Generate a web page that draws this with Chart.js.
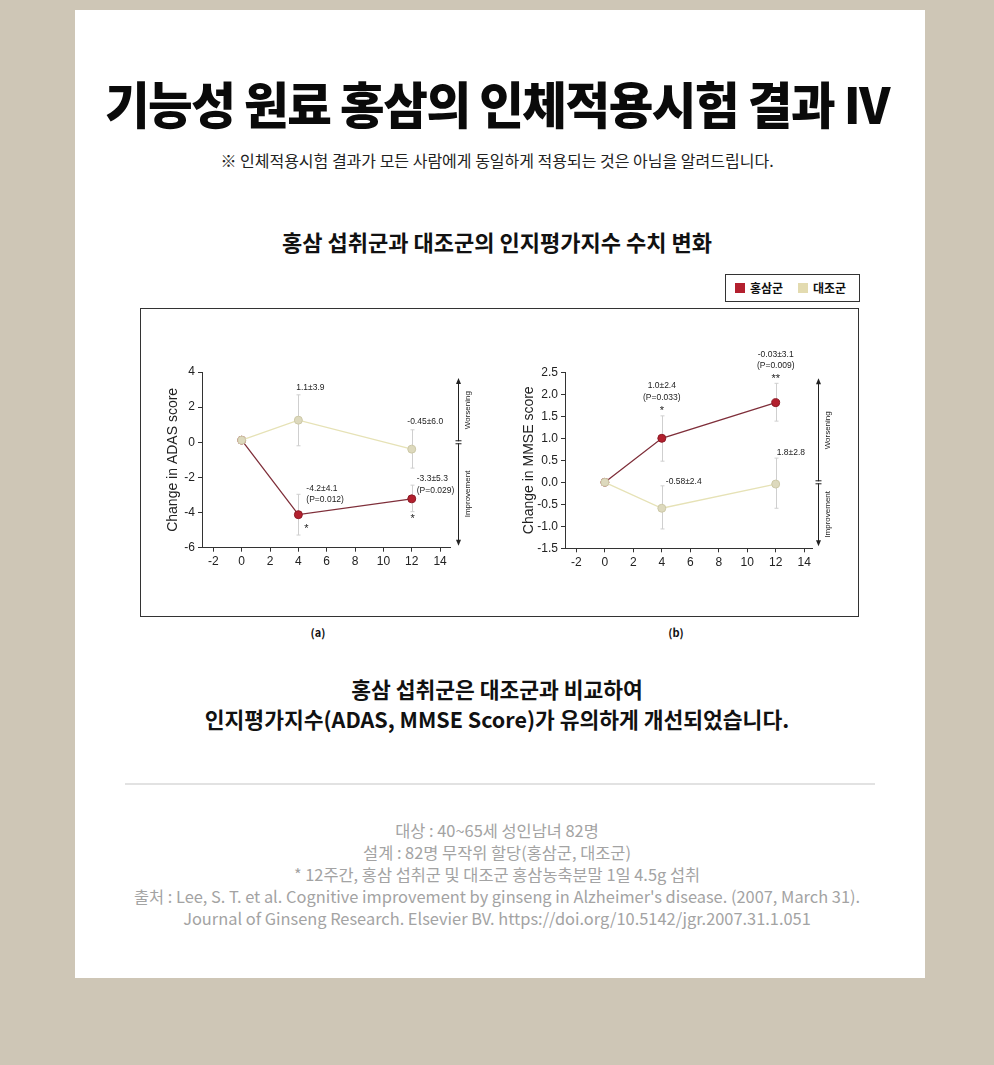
<!DOCTYPE html>
<html><head><meta charset="utf-8">
<script src="https://cdn.jsdelivr.net/npm/chart.js@4.4.0/dist/chart.umd.min.js"></script>
<style>
html,body{margin:0;padding:0;}
body{width:994px;height:1065px;background:#cec6b6;position:relative;overflow:hidden;font-family:"Noto Sans CJK KR","Noto Sans",sans-serif;color:#111;}
#card{position:absolute;left:75px;top:10px;width:850px;height:968px;background:#fff;}
.t{position:absolute;left:0;width:994px;text-align:center;white-space:nowrap;}
#title{top:72px;font-size:50px;line-height:60px;font-weight:900;letter-spacing:-1.5px;transform:scaleX(0.97);transform-origin:50% 50%;color:#0a0a0a;}
#sub{top:148px;font-size:16px;line-height:24px;color:#222;}
#heading{top:227px;font-size:22px;line-height:28px;font-weight:700;color:#111;}
#legend{position:absolute;left:725px;top:274px;width:133px;height:26px;border:1px solid #333;font-size:12px;font-weight:700;}
#legend span.sw{position:absolute;top:8px;width:10px;height:10px;}
#legend span.lb{position:absolute;top:4px;line-height:18px;}
#frame{position:absolute;left:140px;top:308px;width:717px;height:307px;border:1px solid #333;}
canvas{position:absolute;}
.cap{position:absolute;top:624px;font-size:11px;font-weight:700;line-height:16px;width:40px;text-align:center;}
#concl{top:674px;font-size:21.5px;line-height:30px;font-weight:700;color:#111;}
#divider{position:absolute;left:125px;top:783px;width:750px;height:2px;background:#e2e2e2;}
#foot{top:819px;font-size:16.4px;line-height:22px;color:#a3a3a3;}
</style></head>
<body>
<div id="card"></div>
<div class="t" id="title">기능성 원료 홍삼의 인체적용시험 결과 IV</div>
<div class="t" id="sub">※ 인체적용시험 결과가 모든 사람에게 동일하게 적용되는 것은 아님을 알려드립니다.</div>
<div class="t" id="heading">홍삼 섭취군과 대조군의 인지평가지수 수치 변화</div>
<div id="legend"></div>
<div id="frame"></div>
<canvas id="cA" width="330" height="240" style="left:150px;top:340px;"></canvas>
<canvas id="cB" width="330" height="240" style="left:510px;top:340px;"></canvas>
<div class="cap" style="left:298px;">(a)</div>
<div class="cap" style="left:656px;">(b)</div>
<div class="t" id="concl">홍삼 섭취군은 대조군과 비교하여<br>인지평가지수(ADAS, MMSE Score)가 유의하게 개선되었습니다.</div>
<div id="divider"></div>
<div class="t" id="foot">대상 : 40~65세 성인남녀 82명<br>설계 : 82명 무작위 할당(홍삼군, 대조군)<br>* 12주간, 홍삼 섭취군 및 대조군 홍삼농축분말 1일 4.5g 섭취<br>출처 : Lee, S. T. et al. Cognitive improvement by ginseng in Alzheimer's disease. (2007, March 31).<br>Journal of Ginseng Research. Elsevier BV. https://doi.org/10.5142/jgr.2007.31.1.051</div>

<script>
// ---------- DATA ----------
const WEEKS = [0, 4, 12];
const X_TICKS = [-2, 0, 2, 4, 6, 8, 10, 12, 14];
const ADAS_Y_TICKS = [-6, -4, -2, 0, 2, 4];
const MMSE_Y_TICKS = [-1.5, -1, -0.5, 0, 0.5, 1, 1.5, 2, 2.5];
const SERIES_NAMES = ['홍삼군', '대조군'];

// (a) ADAS
const ADAS_RG    = [0.12, -4.12, -3.22];
const ADAS_RG_HI = [null, -2.96, -2.44];
const ADAS_RG_LO = [null, -5.28, -3.95];
const ADAS_CT    = [0.12, 1.26, -0.39];
const ADAS_CT_HI = [null, 2.70, 0.71];
const ADAS_CT_LO = [null, -0.20, -1.47];

// (b) MMSE
const MMSE_RG    = [0, 1.0, 1.81];
const MMSE_RG_HI = [null, 1.51, 2.25];
const MMSE_RG_LO = [null, 0.48, 1.39];
const MMSE_CT    = [0, -0.59, -0.04];
const MMSE_CT_HI = [null, -0.08, 0.55];
const MMSE_CT_LO = [null, -1.06, -0.59];

// annotation texts
const ADAS_TEXT = {
  ct4: ['1.1±3.9'], ct12: ['-0.45±6.0'],
  rg4: ['-4.2±4.1', '(P=0.012)'], rg12: ['-3.3±5.3', '(P=0.029)'],
  rg4sig: '*', rg12sig: '*'
};
const MMSE_TEXT = {
  rg4: ['1.0±2.4', '(P=0.033)'], rg12: ['-0.03±3.1', '(P=0.009)'],
  rg4sig: '*', rg12sig: '**',
  ct4: ['-0.58±2.4'], ct12: ['1.8±2.8']
};
const SIDE_TEXT = ['Worsening', 'Improvement'];

// ---------- STYLE ----------
const RED = '#b3202e', RED_LINE = '#7f2f3a', RED_EDGE = '#8c1a25';
const BEIGE = '#ddd9bd', BEIGE_LINE = '#e6e2b6', BEIGE_EDGE = '#cdc9a8';
const ERR = '#cfcfcf';
const FONT = '"Liberation Sans", Arial, sans-serif';
const INK = '#222';

// legend (HTML)
(function(){
  const lg = document.getElementById('legend');
  const cols = [RED, '#e3dbb0'];
  const pos = [[9, 24], [72, 87]];
  SERIES_NAMES.forEach((n, k) => {
    const s = document.createElement('span'); s.className = 'sw';
    s.style.left = pos[k][0] + 'px'; s.style.background = cols[k]; lg.appendChild(s);
    const l = document.createElement('span'); l.className = 'lb';
    l.style.left = pos[k][1] + 'px'; l.textContent = n; lg.appendChild(l);
  });
})();

function pts(vals){ return WEEKS.map((w, i) => ({x: w, y: vals[i]})); }

const errorBars = {
  id: 'errorBars',
  beforeDatasetsDraw(chart){
    const {ctx, scales:{x, y}} = chart;
    ctx.save(); ctx.strokeStyle = ERR; ctx.lineWidth = 1;
    chart.data.datasets.forEach(ds => {
      ds.data.forEach((p, i) => {
        const hi = ds.errHi[i], lo = ds.errLo[i];
        if (hi == null) return;
        const px = Math.round(x.getPixelForValue(p.x)) + 0.5;
        const ph = y.getPixelForValue(hi), pl = y.getPixelForValue(lo);
        ctx.beginPath();
        ctx.moveTo(px, ph); ctx.lineTo(px, pl);
        ctx.moveTo(px - 2, ph); ctx.lineTo(px + 2, ph);
        ctx.moveTo(px - 2, pl); ctx.lineTo(px + 2, pl);
        ctx.stroke();
      });
    });
    ctx.restore();
  }
};

const annotations = {
  id: 'annotations',
  afterDatasetsDraw(chart, args, opts){
    const {ctx, scales:{x, y}} = chart;
    ctx.save(); ctx.fillStyle = INK; ctx.textBaseline = 'middle';
    (opts.items || []).forEach(a => {
      const ds = chart.data.datasets[a.ds];
      const p = ds.data[a.i];
      const ax = x.getPixelForValue(p.x);
      const ay = y.getPixelForValue(a.at === 'hi' ? ds.errHi[a.i] : p.y);
      ctx.textAlign = a.align || 'center';
      ctx.font = (a.size || 8.5) + 'px ' + FONT;
      a.lines.forEach((t, k) => ctx.fillText(t, ax + a.dx, ay + a.dy[k]));
    });
    ctx.restore();
  }
};

const sideArrow = {
  id: 'sideArrow',
  afterDraw(chart, args, opts){
    const {ctx, chartArea:{top, bottom, right}, scales:{y}} = chart;
    const ax = Math.round(right + opts.dx) + 0.5;
    const t = top + 6, b = bottom - 2;
    const y0 = y.getPixelForValue(0);
    ctx.save();
    ctx.strokeStyle = INK; ctx.fillStyle = INK; ctx.lineWidth = 1;
    ctx.beginPath(); ctx.moveTo(ax, t + 4); ctx.lineTo(ax, b - 4); ctx.stroke();
    ctx.beginPath(); ctx.moveTo(ax, t); ctx.lineTo(ax - 2.5, t + 6); ctx.lineTo(ax + 2.5, t + 6); ctx.closePath(); ctx.fill();
    ctx.beginPath(); ctx.moveTo(ax, b); ctx.lineTo(ax - 2.5, b - 6); ctx.lineTo(ax + 2.5, b - 6); ctx.closePath(); ctx.fill();
    ctx.fillStyle = '#fff'; ctx.fillRect(ax - 3, y0 - 1, 6, 2);
    ctx.beginPath(); ctx.moveTo(ax - 3, y0 - 1.5); ctx.lineTo(ax + 3, y0 - 1.5);
    ctx.moveTo(ax - 3, y0 + 1.5); ctx.lineTo(ax + 3, y0 + 1.5); ctx.stroke();
    ctx.fillStyle = INK; ctx.font = '8px ' + FONT; ctx.textAlign = 'center'; ctx.textBaseline = 'middle';
    const tx = ax + 9;
    [[SIDE_TEXT[0], (t + y0) / 2], [SIDE_TEXT[1], (y0 + b) / 2]].forEach(([s, cy]) => {
      ctx.save(); ctx.translate(tx, cy); ctx.rotate(-Math.PI / 2); ctx.fillText(s, 0, 0); ctx.restore();
    });
    ctx.restore();
  }
};

function makeChart(id, o){
  return new Chart(document.getElementById(id), {
    type: 'line',
    data: { datasets: [
      { label: SERIES_NAMES[1], data: pts(o.ct), errHi: o.ctHi, errLo: o.ctLo,
        borderColor: BEIGE_LINE, borderWidth: 1.3, backgroundColor: BEIGE,
        pointBackgroundColor: BEIGE, pointBorderColor: BEIGE_EDGE, pointBorderWidth: 1, pointRadius: 4 },
      { label: SERIES_NAMES[0], data: pts(o.rg), errHi: o.rgHi, errLo: o.rgLo,
        borderColor: RED_LINE, borderWidth: 1.3, backgroundColor: RED,
        pointBackgroundColor: RED, pointBorderColor: RED_EDGE, pointBorderWidth: 1, pointRadius: 4 }
    ]},
    options: {
      responsive: false, animation: false, devicePixelRatio: 1,
      layout: { padding: { top: o.padTop, right: o.padRight, left: 0, bottom: 0 } },
      plugins: { legend: { display: false }, tooltip: { enabled: false },
        annotations: { items: o.notes }, sideArrow: { dx: o.arrowDx } },
      scales: {
        x: { type: 'linear', min: o.xMin, max: o.xMax,
          afterBuildTicks: s => { s.ticks = X_TICKS.map(v => ({value: v})); },
          afterFit: s => { s.height = o.xH; },
          ticks: { autoSkip: false, maxRotation: 0, padding: 3, color: INK, font: { family: FONT, size: 12 } },
          grid: { drawOnChartArea: false, drawTicks: true, tickLength: 4, color: '#333' },
          border: { color: '#333', width: 1 } },
        y: { type: 'linear', min: o.yTicks[0], max: o.yTicks[o.yTicks.length - 1],
          afterBuildTicks: s => { s.ticks = o.yTicks.map(v => ({value: v})); },
          afterFit: s => { s.width = o.yW; },
          ticks: { autoSkip: false, padding: 3, color: INK, font: { family: FONT, size: 12 }, callback: o.fmt },
          grid: { drawOnChartArea: false, drawTicks: true, tickLength: 4, color: '#333' },
          border: { color: '#333', width: 1 },
          title: { display: true, text: o.yTitle, color: INK, font: { family: FONT, size: 14 }, padding: { top: o.titlePad, bottom: 0 } } }
      }
    },
    plugins: [errorBars, annotations, sideArrow]
  });
}

makeChart('cA', {
  rg: ADAS_RG, rgHi: ADAS_RG_HI, rgLo: ADAS_RG_LO,
  ct: ADAS_CT, ctHi: ADAS_CT_HI, ctLo: ADAS_CT_LO,
  yTicks: ADAS_Y_TICKS, fmt: v => String(v), yTitle: 'Change in ADAS score',
  xMin: -2.8, xMax: 14.7, padTop: 32, padRight: 30, xH: 32.3, yW: 52, titlePad: 14.6, arrowDx: 8,
  notes: [
    { ds: 0, i: 1, at: 'hi', dx: 12, dy: [-7], lines: ADAS_TEXT.ct4 },
    { ds: 0, i: 2, at: 'hi', dx: 13.5, dy: [-8], lines: ADAS_TEXT.ct12 },
    { ds: 1, i: 1, at: 'pt', dx: 8, dy: [-26.4, -15.4], align: 'left', lines: ADAS_TEXT.rg4 },
    { ds: 1, i: 1, at: 'pt', dx: 8, dy: [14], size: 11, lines: [ADAS_TEXT.rg4sig] },
    { ds: 1, i: 2, at: 'pt', dx: 5, dy: [-20, -8], align: 'left', lines: ADAS_TEXT.rg12 },
    { ds: 1, i: 2, at: 'pt', dx: 1, dy: [20.5], size: 11, lines: [ADAS_TEXT.rg12sig] }
  ]
});

makeChart('cB', {
  rg: MMSE_RG, rgHi: MMSE_RG_HI, rgLo: MMSE_RG_LO,
  ct: MMSE_CT, ctHi: MMSE_CT_HI, ctLo: MMSE_CT_LO,
  yTicks: MMSE_Y_TICKS, fmt: v => v.toFixed(1), yTitle: 'Change in MMSE score',
  xMin: -2.8, xMax: 14.55, padTop: 32.3, padRight: 28, xH: 31.7, yW: 55, titlePad: 10.6, arrowDx: 6,
  notes: [
    { ds: 1, i: 1, at: 'hi', dx: 0, dy: [-30.7, -18.4], lines: MMSE_TEXT.rg4 },
    { ds: 1, i: 1, at: 'hi', dx: 0, dy: [-4.5], size: 11, lines: [MMSE_TEXT.rg4sig] },
    { ds: 1, i: 2, at: 'hi', dx: 0, dy: [-28.3, -17.6], lines: MMSE_TEXT.rg12 },
    { ds: 1, i: 2, at: 'hi', dx: 0, dy: [-4.8], size: 11, lines: [MMSE_TEXT.rg12sig] },
    { ds: 0, i: 1, at: 'hi', dx: 4, dy: [-4], align: 'left', lines: MMSE_TEXT.ct4 },
    { ds: 0, i: 2, at: 'hi', dx: 1, dy: [-5.6], align: 'left', lines: MMSE_TEXT.ct12 }
  ]
});
</script>
</body></html>
